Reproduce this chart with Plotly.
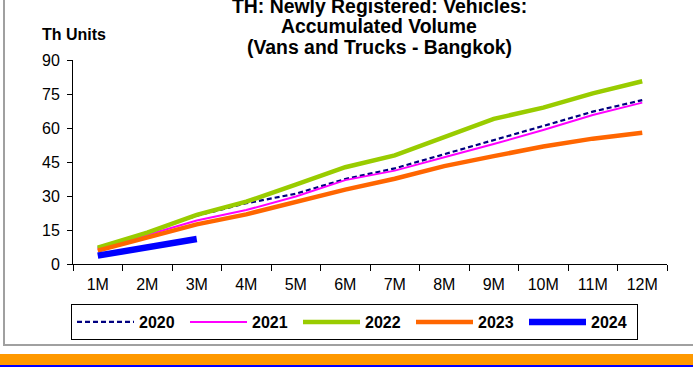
import plotly.graph_objects as go

# ── Data ─────────────────────────────────────────────────────────────────────
months = ["1M", "2M", "3M", "4M", "5M", "6M", "7M", "8M", "9M", "10M", "11M", "12M"]

vol_2020 = [7.2, 14.0, 21.3, 26.8, 31.0, 37.5, 42.2, 48.4, 54.4, 60.9, 67.2, 72.3]
vol_2021 = [6.5, 12.8, 19.2, 23.8, 29.8, 37.0, 41.2, 47.1, 52.9, 59.1, 65.7, 71.2]
vol_2022 = [7.2, 13.8, 21.7, 27.5, 35.0, 42.7, 47.9, 55.7, 64.0, 69.0, 75.3, 80.6]
vol_2023 = [5.9, 11.6, 17.5, 21.9, 27.3, 32.8, 37.6, 43.2, 47.6, 51.8, 55.3, 57.9]
vol_2024 = [3.7, 7.6, 11.0]

y_ticks = [0, 15, 30, 45, 60, 75, 90]

# ── Style ────────────────────────────────────────────────────────────────────
FONT = "Liberation Sans, Arial, sans-serif"
NAVY = "#000080"
MAGENTA = "#FF00FF"
GREEN = "#99CC00"
ORANGE = "#FF6600"
BLUE = "#0000FF"

series = [
    ("2020", vol_2020, dict(color=NAVY, width=2.2, dash="5px,3px")),
    ("2021", vol_2021, dict(color=MAGENTA, width=2)),
    ("2022", vol_2022, dict(color=GREEN, width=4.5)),
    ("2023", vol_2023, dict(color=ORANGE, width=4.5)),
    ("2024", vol_2024, dict(color=BLUE, width=6.5)),
]

fig = go.Figure()
for name, vals, line in series:
    fig.add_trace(go.Scatter(
        x=months[:len(vals)], y=vals, name=name,
        mode="lines", line=line,
    ))

# plot area: x 73..667, y 60..264 (px)
def xp(px):
    return (px - 73) / 594


def yp(py):
    return (264 - py) / 204


# frame, orange footer bar and blue rule
fig.add_shape(type="rect", xref="paper", yref="paper",
              x0=xp(4), x1=xp(720), y0=yp(345), y1=yp(-10),
              line=dict(color="#A0A0A0", width=2), fillcolor="rgba(0,0,0,0)", layer="below")
fig.add_shape(type="rect", xref="paper", yref="paper",
              x0=xp(-20), x1=xp(720), y0=yp(365), y1=yp(354),
              line=dict(width=0), fillcolor="#FF9900")
fig.add_shape(type="rect", xref="paper", yref="paper",
              x0=xp(-20), x1=xp(720), y0=yp(372), y1=yp(365),
              line=dict(width=0), fillcolor="#0000FF")

title_lines = ["TH: Newly Registered: Vehicles:", "Accumulated Volume",
               "(Vans and Trucks - Bangkok)"]
for i, t in enumerate(title_lines):
    fig.add_annotation(text=f"<b>{t}</b>", xref="paper", yref="paper",
                       x=xp(379), y=yp(6 + 20.5 * i), xanchor="center", yanchor="middle",
                       showarrow=False, font=dict(family=FONT, size=19.4, color="black"))

fig.add_annotation(text="<b>Th Units</b>", xref="paper", yref="paper",
                   x=xp(40), y=yp(34), xanchor="left", yanchor="middle",
                   showarrow=False, font=dict(family=FONT, size=16, color="black"))

fig.update_layout(
    width=693, height=367,
    margin=dict(l=73, r=26, t=60, b=103),
    paper_bgcolor="white", plot_bgcolor="white",
    font=dict(family=FONT, color="black", size=16),
    showlegend=True,
    legend=dict(
        orientation="h", x=xp(71), y=yp(304), xanchor="left", yanchor="top",
        bordercolor="black", borderwidth=1, bgcolor="white",
        font=dict(family=FONT, size=16, color="black", weight="bold"),
        itemwidth=57, entrywidth=41, tracegroupgap=0,
    ),
    xaxis=dict(
        type="category", categoryorder="array", categoryarray=months,
        range=[-0.5, 11.5], tickson="boundaries",
        ticks="outside", ticklen=6, tickcolor="black",
        showline=True, linecolor="black", linewidth=1,
        showgrid=False, zeroline=False, tickfont=dict(size=16),
        ticklabelstandoff=6,
    ),
    yaxis=dict(
        range=[0, 90], tickvals=y_ticks,
        ticks="outside", ticklen=5, tickcolor="black",
        showline=True, linecolor="black", linewidth=1,
        showgrid=False, zeroline=False, tickfont=dict(size=16),
        ticklabelstandoff=4,
    ),
)

# page body has a default 8px margin; drop it so the chart sits at the corner
fig.write_html("out.html", config={"displayModeBar": False},
               post_script="document.body.style.margin='0px';")
